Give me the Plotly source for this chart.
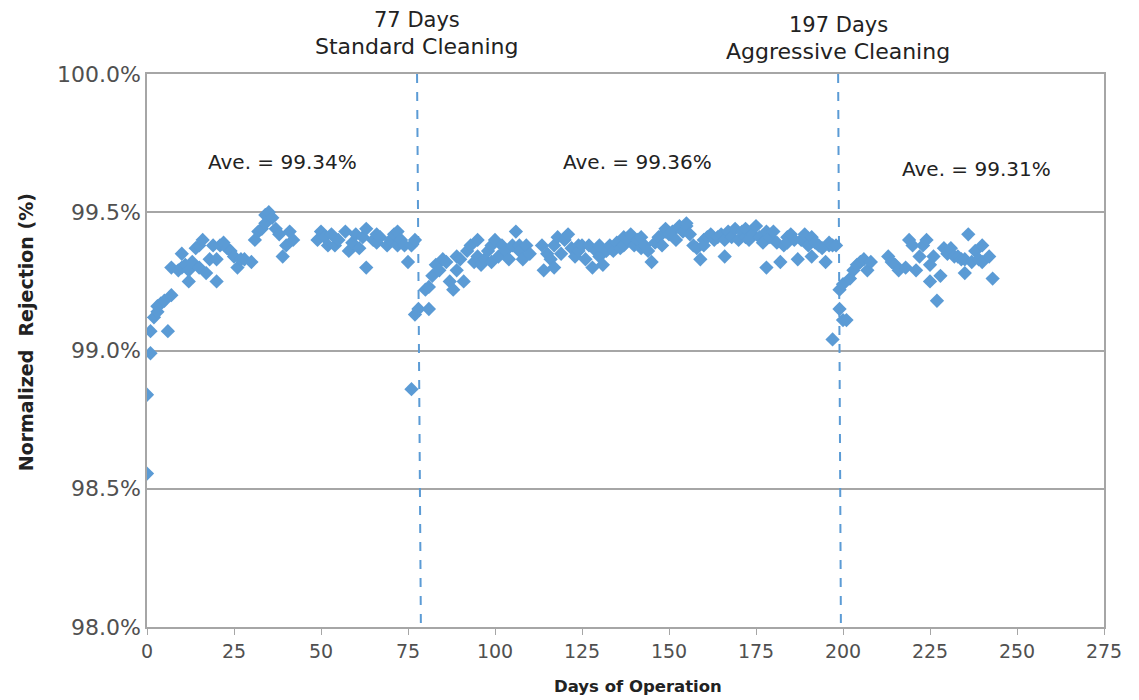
import plotly.graph_objects as go

# Days of operation and normalized rejection (%)
days = [
    0, 0, 1, 1, 2, 3, 3, 4, 5, 6, 7, 7, 9, 10, 10, 11, 12, 12, 13, 14, 15, 16, 15, 17, 18, 19, 20, 20,
    21, 22, 23, 24, 25, 26, 27, 28, 30, 31, 32, 33, 34, 34, 35, 36, 37, 38, 39, 40, 41, 42,
    49, 50, 51, 52, 53, 54, 55, 57, 58, 59, 60, 61, 62, 63, 63, 65, 66, 66, 67, 69, 70, 71, 72, 72,
    73, 74, 75, 76, 77, 76,
    77, 78, 80, 81, 81, 82, 83, 84, 85, 86, 87, 88, 89, 89, 90, 91, 92, 93, 94, 95, 95, 96, 97, 98,
    99, 99, 100, 101, 102, 103, 104, 105, 106, 107, 107, 108, 109, 110, 113.5, 114, 115, 116, 117, 117,
    118, 119, 120, 121, 122, 123, 124, 124, 125, 126, 127, 128, 129, 130, 130, 131, 132, 133, 134, 135,
    136, 137, 137, 138, 139, 140, 141, 142, 142, 143, 144, 145, 146, 147, 148, 149, 149, 150, 151, 152,
    153, 154, 155, 155, 156, 157, 158, 159, 160, 160, 161, 162, 163, 164, 165, 166, 166, 167, 168, 169,
    170, 171, 172, 172, 173, 174, 175, 176, 177, 178, 178, 179, 180, 181, 182, 183, 184, 184, 185, 186,
    187, 188, 189, 190, 191, 191, 192, 193, 194, 195, 196, 196, 197, 198,
    197, 199, 199, 200, 201, 200, 202, 203, 204, 205, 206, 207, 208, 213, 214, 215, 216, 218, 219, 220,
    221, 222, 223, 224, 225, 225, 226, 227, 228, 229, 230, 231, 232, 233, 234, 235, 235, 236, 237, 238,
    239, 240, 240, 242, 243,
]
rejection = [
    98.555, 98.84, 98.99, 99.07, 99.12, 99.14, 99.16, 99.17, 99.18, 99.07, 99.20, 99.30, 99.29, 99.35,
    99.30, 99.31, 99.29, 99.25, 99.32, 99.37, 99.38, 99.40, 99.30, 99.28, 99.33, 99.38, 99.25, 99.33,
    99.38, 99.39, 99.37, 99.36, 99.34, 99.30, 99.33, 99.33, 99.32, 99.40, 99.43, 99.44, 99.46, 99.49,
    99.50, 99.48, 99.44, 99.42, 99.34, 99.38, 99.43, 99.40,
    99.40, 99.43, 99.41, 99.38, 99.42, 99.38, 99.40, 99.43, 99.36, 99.39, 99.42, 99.37, 99.41, 99.44,
    99.30, 99.40, 99.42, 99.39, 99.41, 99.38, 99.40, 99.42, 99.43, 99.38, 99.40, 99.38, 99.32, 99.38,
    99.40, 98.86,
    99.13, 99.15, 99.22, 99.23, 99.15, 99.27, 99.31, 99.29, 99.33, 99.32, 99.25, 99.22, 99.29, 99.34,
    99.33, 99.25, 99.36, 99.38, 99.32, 99.34, 99.40, 99.31, 99.33, 99.36, 99.32, 99.38, 99.40, 99.34,
    99.38, 99.36, 99.33, 99.38, 99.43, 99.38, 99.36, 99.33, 99.38, 99.35, 99.38, 99.29, 99.35, 99.33,
    99.30, 99.38, 99.41, 99.35, 99.40, 99.42, 99.37, 99.34, 99.38, 99.36, 99.38, 99.33, 99.38, 99.30,
    99.36, 99.34, 99.38, 99.31, 99.36, 99.38, 99.36, 99.39, 99.37, 99.41, 99.38, 99.40, 99.42, 99.38,
    99.40, 99.37, 99.41, 99.38, 99.36, 99.32, 99.39, 99.41, 99.38, 99.43, 99.44, 99.42, 99.43, 99.40,
    99.45, 99.43, 99.45, 99.46, 99.42, 99.38, 99.37, 99.33, 99.40, 99.38, 99.41, 99.42, 99.40, 99.41,
    99.42, 99.34, 99.40, 99.43, 99.41, 99.44, 99.40, 99.43, 99.41, 99.44, 99.40, 99.42, 99.45, 99.41,
    99.39, 99.30, 99.43, 99.41, 99.43, 99.39, 99.32, 99.38, 99.41, 99.39, 99.42, 99.40, 99.33, 99.40,
    99.42, 99.38, 99.41, 99.34, 99.39, 99.38, 99.37, 99.32, 99.38, 99.39, 99.38, 99.38,
    99.04, 99.22, 99.15, 99.11, 99.11, 99.24, 99.26, 99.29, 99.31, 99.32, 99.33, 99.29, 99.32, 99.34,
    99.32, 99.31, 99.29, 99.30, 99.40, 99.38, 99.29, 99.34, 99.38, 99.40, 99.25, 99.31, 99.34, 99.18,
    99.27, 99.37, 99.35, 99.37, 99.34, 99.34, 99.33, 99.28, 99.33, 99.42, 99.32, 99.36, 99.33, 99.32,
    99.38, 99.34, 99.26,
]

# Cleaning events (dashed lines drawn slightly slanted as in the source scan)
clean_top = [77.6, 198.6]
clean_bottom = [78.7, 199.4]
clean_days_text = ["77 Days", "197 Days"]
clean_type_text = ["Standard Cleaning", "Aggressive Cleaning"]

avg_x = [39, 141, 238.5]
avg_y = [99.68, 99.68, 99.655]
avg_text = ["Ave. = 99.34%", "Ave. = 99.36%", "Ave. = 99.31%"]

y_ticks = [98.0, 98.5, 99.0, 99.5, 100.0]
x_ticks = list(range(0, 276, 25))

BLUE = "#5B9BD5"
GRID = "#A6A6A6"
TICK = "#505050"
FONT = "DejaVu Sans, Liberation Sans, Arial, sans-serif"

fig = go.Figure()
fig.add_trace(go.Scatter(
    x=days, y=rejection, mode="markers",
    marker=dict(symbol="diamond", size=11, color=BLUE, line=dict(width=0)),
    showlegend=False,
))

for x0, x1 in zip(clean_top, clean_bottom):
    fig.add_shape(type="line", xref="x", yref="paper", x0=x0, x1=x1, y0=1, y1=0,
                  line=dict(color=BLUE, width=2, dash="dash"))

# label lines placed above the plot (pixel offsets from plot top via yshift)
for i, (xv, t1, t2) in enumerate(zip(clean_top, clean_days_text, clean_type_text)):
    extra = 0 if i == 0 else -5
    fig.add_annotation(x=xv, y=1, xref="x", yref="paper", text=t1, showarrow=False,
                       yanchor="middle", yshift=54 + extra,
                       font=dict(size=21, color="#222222", family=FONT))
    fig.add_annotation(x=xv, y=1, xref="x", yref="paper", text=t2, showarrow=False,
                       yanchor="middle", yshift=28 + extra,
                       font=dict(size=22, color="#222222", family=FONT))

for xv, yv, t in zip(avg_x, avg_y, avg_text):
    fig.add_annotation(x=xv, y=yv, text=t, showarrow=False,
                       font=dict(size=20, color="#222222", family=FONT))

# axis titles
fig.add_annotation(x=0, y=0.533, xref="paper", yref="paper", xshift=-134,
                   text="<b>Normalized  Rejection (%)</b>", textangle=-90, showarrow=False,
                   font=dict(size=19, color="#222222", family=FONT))
fig.add_annotation(x=0.5, y=0, xref="paper", yref="paper", xshift=12, yshift=-71,
                   text="<b>Days of Operation</b>", showarrow=False,
                   font=dict(size=16.5, color="#222222", family=FONT))

fig.update_layout(
    width=1139, height=700,
    margin=dict(l=139, r=43, t=66, b=81),
    plot_bgcolor="white", paper_bgcolor="white",
    font=dict(family=FONT, color=TICK),
    xaxis=dict(
        range=[0, 275], tickvals=x_ticks, ticks="outside", ticklen=6, tickcolor=GRID,
        showgrid=False, showline=True, linecolor=GRID, linewidth=1.5, mirror=True,
        zeroline=False, tickfont=dict(size=19, color=TICK),
    ),
    yaxis=dict(
        range=[98.0, 100.0], tickvals=y_ticks, ticktext=[f"{v:.1f}%" for v in y_ticks],
        showgrid=True, gridcolor=GRID, gridwidth=1.5, ticks="",
        showline=True, linecolor=GRID, linewidth=1.5, mirror=True, zeroline=False,
        tickfont=dict(size=22, color=TICK),
    ),
)

fig.write_html("out.html")
